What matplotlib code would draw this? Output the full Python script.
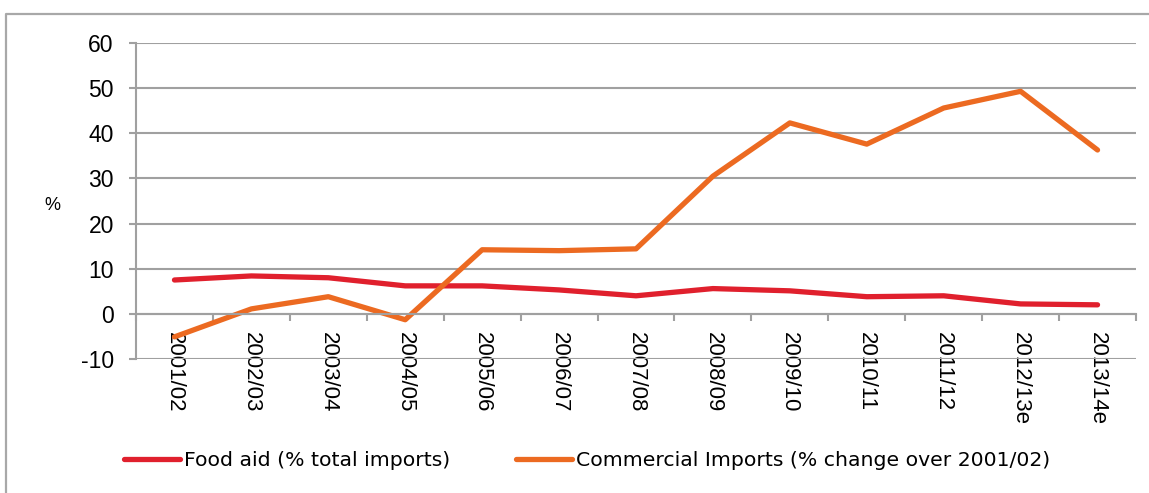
import numpy as np
import matplotlib
matplotlib.use('Agg')
import matplotlib.pyplot as plt
from matplotlib.lines import Line2D

plt.rcParams['axes.unicode_minus'] = False

seasons = ['2001/02', '2002/03', '2003/04', '2004/05', '2005/06', '2006/07', '2007/08',
           '2008/09', '2009/10', '2010/11', '2011/12', '2012/13e', '2013/14e']
food_aid = [7.5, 8.4, 8.0, 6.2, 6.2, 5.3, 4.0, 5.6, 5.1, 3.8, 4.0, 2.2, 2.0]
commercial = [-5.1, 1.1, 3.8, -1.3, 14.2, 14.0, 14.4, 30.5, 42.3, 37.6, 45.6, 49.3, 36.3]

red = '#E0202D'
orange = '#EC6A21'
grey = '#A0A0A0'

W, H = 1149, 493
fig = plt.figure(figsize=(W / 100, H / 100), dpi=100)
ax = fig.add_axes([136 / W, 1 - 359 / H, 1000 / W, 316 / H])

x = np.arange(len(seasons))
l1, = ax.plot(x, food_aid, color=red, lw=3.8, solid_capstyle='round', solid_joinstyle='round')
l2, = ax.plot(x, commercial, color=orange, lw=3.8, solid_capstyle='round', solid_joinstyle='round')

ax.set_xlim(-0.5, len(seasons) - 0.5)
ax.set_ylim(-10, 60)
ax.set_yticks(range(-10, 61, 10))
ax.grid(axis='y', color=grey, lw=1.5)
ax.set_axisbelow(True)

for s in ['top', 'right']:
    ax.spines[s].set_visible(False)
ax.spines['left'].set_color(grey)
ax.spines['left'].set_linewidth(1.5)
ax.spines['bottom'].set_position(('data', 0))
ax.spines['bottom'].set_color(grey)
ax.spines['bottom'].set_linewidth(1.5)

ax.set_xticks(x)
ax.set_xticklabels(seasons, rotation=270, fontsize=16, family='Liberation Sans', va='top', ha='center')
ax.set_xticks(np.arange(-0.5, len(seasons)), minor=True)
ax.tick_params(axis='x', which='major', length=0, pad=13)
ax.tick_params(axis='x', which='minor', length=5, width=1.5, color=grey, direction='out')
ax.tick_params(axis='y', length=5, width=1.5, color=grey, pad=11, labelsize=16.5)
for t in ax.get_yticklabels():
    t.set_family('Liberation Sans')

fig.text(52 / W, 1 - 205 / H, '%', fontsize=13, family='Liberation Sans', ha='center', va='center')

fig.legend([l1, l2], ['Food aid (% total imports)', 'Commercial Imports (% change over 2001/02)'],
           loc='center left', bbox_to_anchor=(124 / W, 1 - 461 / H), ncol=2, frameon=False,
           fontsize=14.7, handlelength=2.75, handletextpad=0.2, columnspacing=3.2,
           borderpad=0, borderaxespad=0)

# outer border of the chart box
fig.add_artist(Line2D([6 / W, 6 / W, 1], [0, 1 - 14 / H, 1 - 14 / H],
                      transform=fig.transFigure, color='#A8A8A8', lw=1.6))

fig.savefig('out.png', dpi=100)
